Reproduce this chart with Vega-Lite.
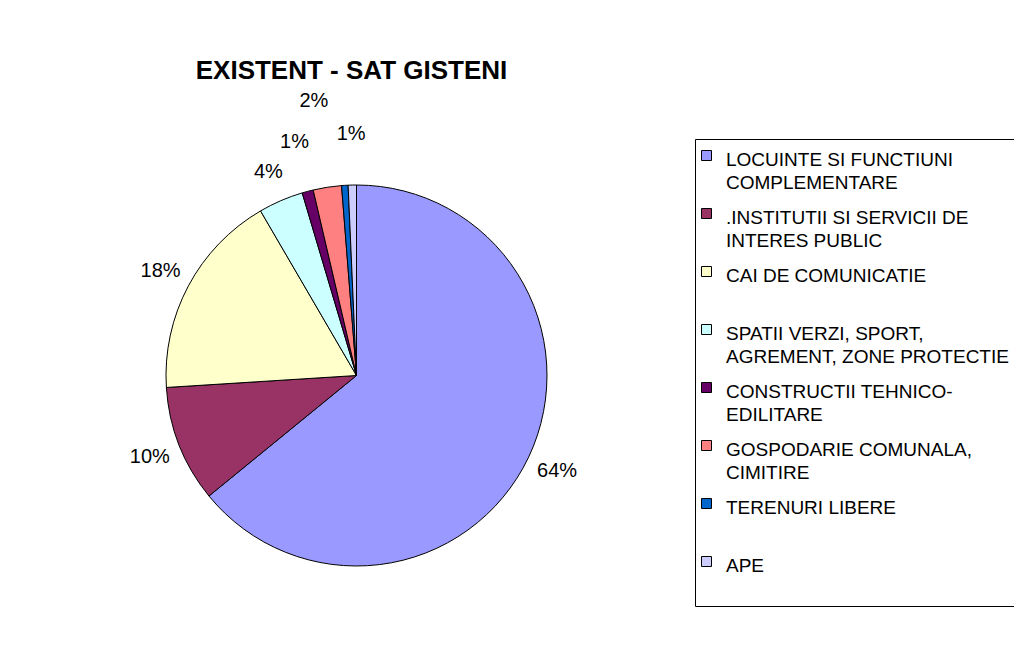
{
  "$schema": "https://vega.github.io/schema/vega-lite/v6.json",
  "width": 381,
  "height": 381,
  "autosize": {"type": "none"},
  "padding": {"left": 166, "top": 185, "right": 467, "bottom": 90},
  "background": "white",
  "title": {
    "text": "EXISTENT - SAT GISTENI",
    "font": "Liberation Sans",
    "fontSize": 26,
    "fontWeight": "bold",
    "color": "black",
    "anchor": "middle",
    "frame": "group",
    "baseline": "alphabetic",
    "offset": -17,
    "dx": -5
  },
  "data": {
    "values": [
      {"categorie": "LOCUINTE SI FUNCTIUNI|COMPLEMENTARE", "procent": 64.1, "eticheta": "64%", "ordine": 1},
      {"categorie": ".INSTITUTII SI SERVICII DE|INTERES PUBLIC", "procent": 9.9, "eticheta": "10%", "ordine": 2},
      {"categorie": "CAI DE COMUNICATIE| ", "procent": 17.6, "eticheta": "18%", "ordine": 3},
      {"categorie": "SPATII VERZI, SPORT,|AGREMENT, ZONE PROTECTIE", "procent": 3.8, "eticheta": "4%", "ordine": 4},
      {"categorie": "CONSTRUCTII TEHNICO-|EDILITARE", "procent": 0.95, "eticheta": "1%", "ordine": 5},
      {"categorie": "GOSPODARIE COMUNALA,|CIMITIRE", "procent": 2.4, "eticheta": "2%", "ordine": 6},
      {"categorie": "TERENURI LIBERE| ", "procent": 0.55, "eticheta": "", "ordine": 7},
      {"categorie": "APE| ", "procent": 0.7, "eticheta": "1%", "ordine": 8}
    ]
  },
  "encoding": {
    "theta": {"field": "procent", "type": "quantitative", "stack": true},
    "order": {"field": "ordine", "type": "quantitative"}
  },
  "layer": [
    {
      "mark": {"type": "arc", "outerRadius": 190.5, "stroke": "black", "strokeWidth": 1},
      "encoding": {
        "color": {
          "field": "categorie",
          "type": "nominal",
          "scale": {
            "domain": [
              "LOCUINTE SI FUNCTIUNI|COMPLEMENTARE",
              ".INSTITUTII SI SERVICII DE|INTERES PUBLIC",
              "CAI DE COMUNICATIE| ",
              "SPATII VERZI, SPORT,|AGREMENT, ZONE PROTECTIE",
              "CONSTRUCTII TEHNICO-|EDILITARE",
              "GOSPODARIE COMUNALA,|CIMITIRE",
              "TERENURI LIBERE| ",
              "APE| "
            ],
            "range": ["#9999FF", "#993366", "#FFFFCC", "#CCFFFF", "#660066", "#FF8080", "#0066CC", "#CCCCFF"]
          },
          "legend": {
            "orient": "none",
            "legendX": 529,
            "legendY": -46,
            "title": null,
            "symbolType": "square",
            "symbolSize": 100,
            "symbolStrokeColor": "black",
            "symbolStrokeWidth": 1,
            "symbolOpacity": 1,
            "symbolOffset": -5,
            "labelFont": "Liberation Sans",
            "labelFontSize": 19,
            "labelColor": "black",
            "labelOffset": 10,
            "labelLimit": 400,
            "labelBaseline": "top",
            "labelExpr": "split(datum.label, '|')",
            "strokeColor": "black",
            "fillColor": "white",
            "padding": 7,
            "rowPadding": 11
          }
        }
      }
    },
    {
      "mark": {"type": "text", "font": "Liberation Sans", "fontSize": 20, "color": "black", "align": "center", "baseline": "middle", "radius": 222},
      "encoding": {
        "text": {"condition": {"test": "datum.procent >= 3", "field": "eticheta"}, "value": ""}
      }
    },
    {
      "mark": {"type": "text", "font": "Liberation Sans", "fontSize": 20, "color": "black", "align": "center", "baseline": "middle", "radius": 242},
      "encoding": {
        "text": {"condition": {"test": "datum.procent < 1.5", "field": "eticheta"}, "value": ""}
      }
    },
    {
      "mark": {"type": "text", "font": "Liberation Sans", "fontSize": 20, "color": "black", "align": "center", "baseline": "middle", "radius": 278},
      "encoding": {
        "text": {"condition": {"test": "datum.procent >= 1.5 && datum.procent < 3", "field": "eticheta"}, "value": ""}
      }
    }
  ],
  "config": {
    "style": {"guide-label": {"lineHeight": 23, "dy": -5}}
  }
}
